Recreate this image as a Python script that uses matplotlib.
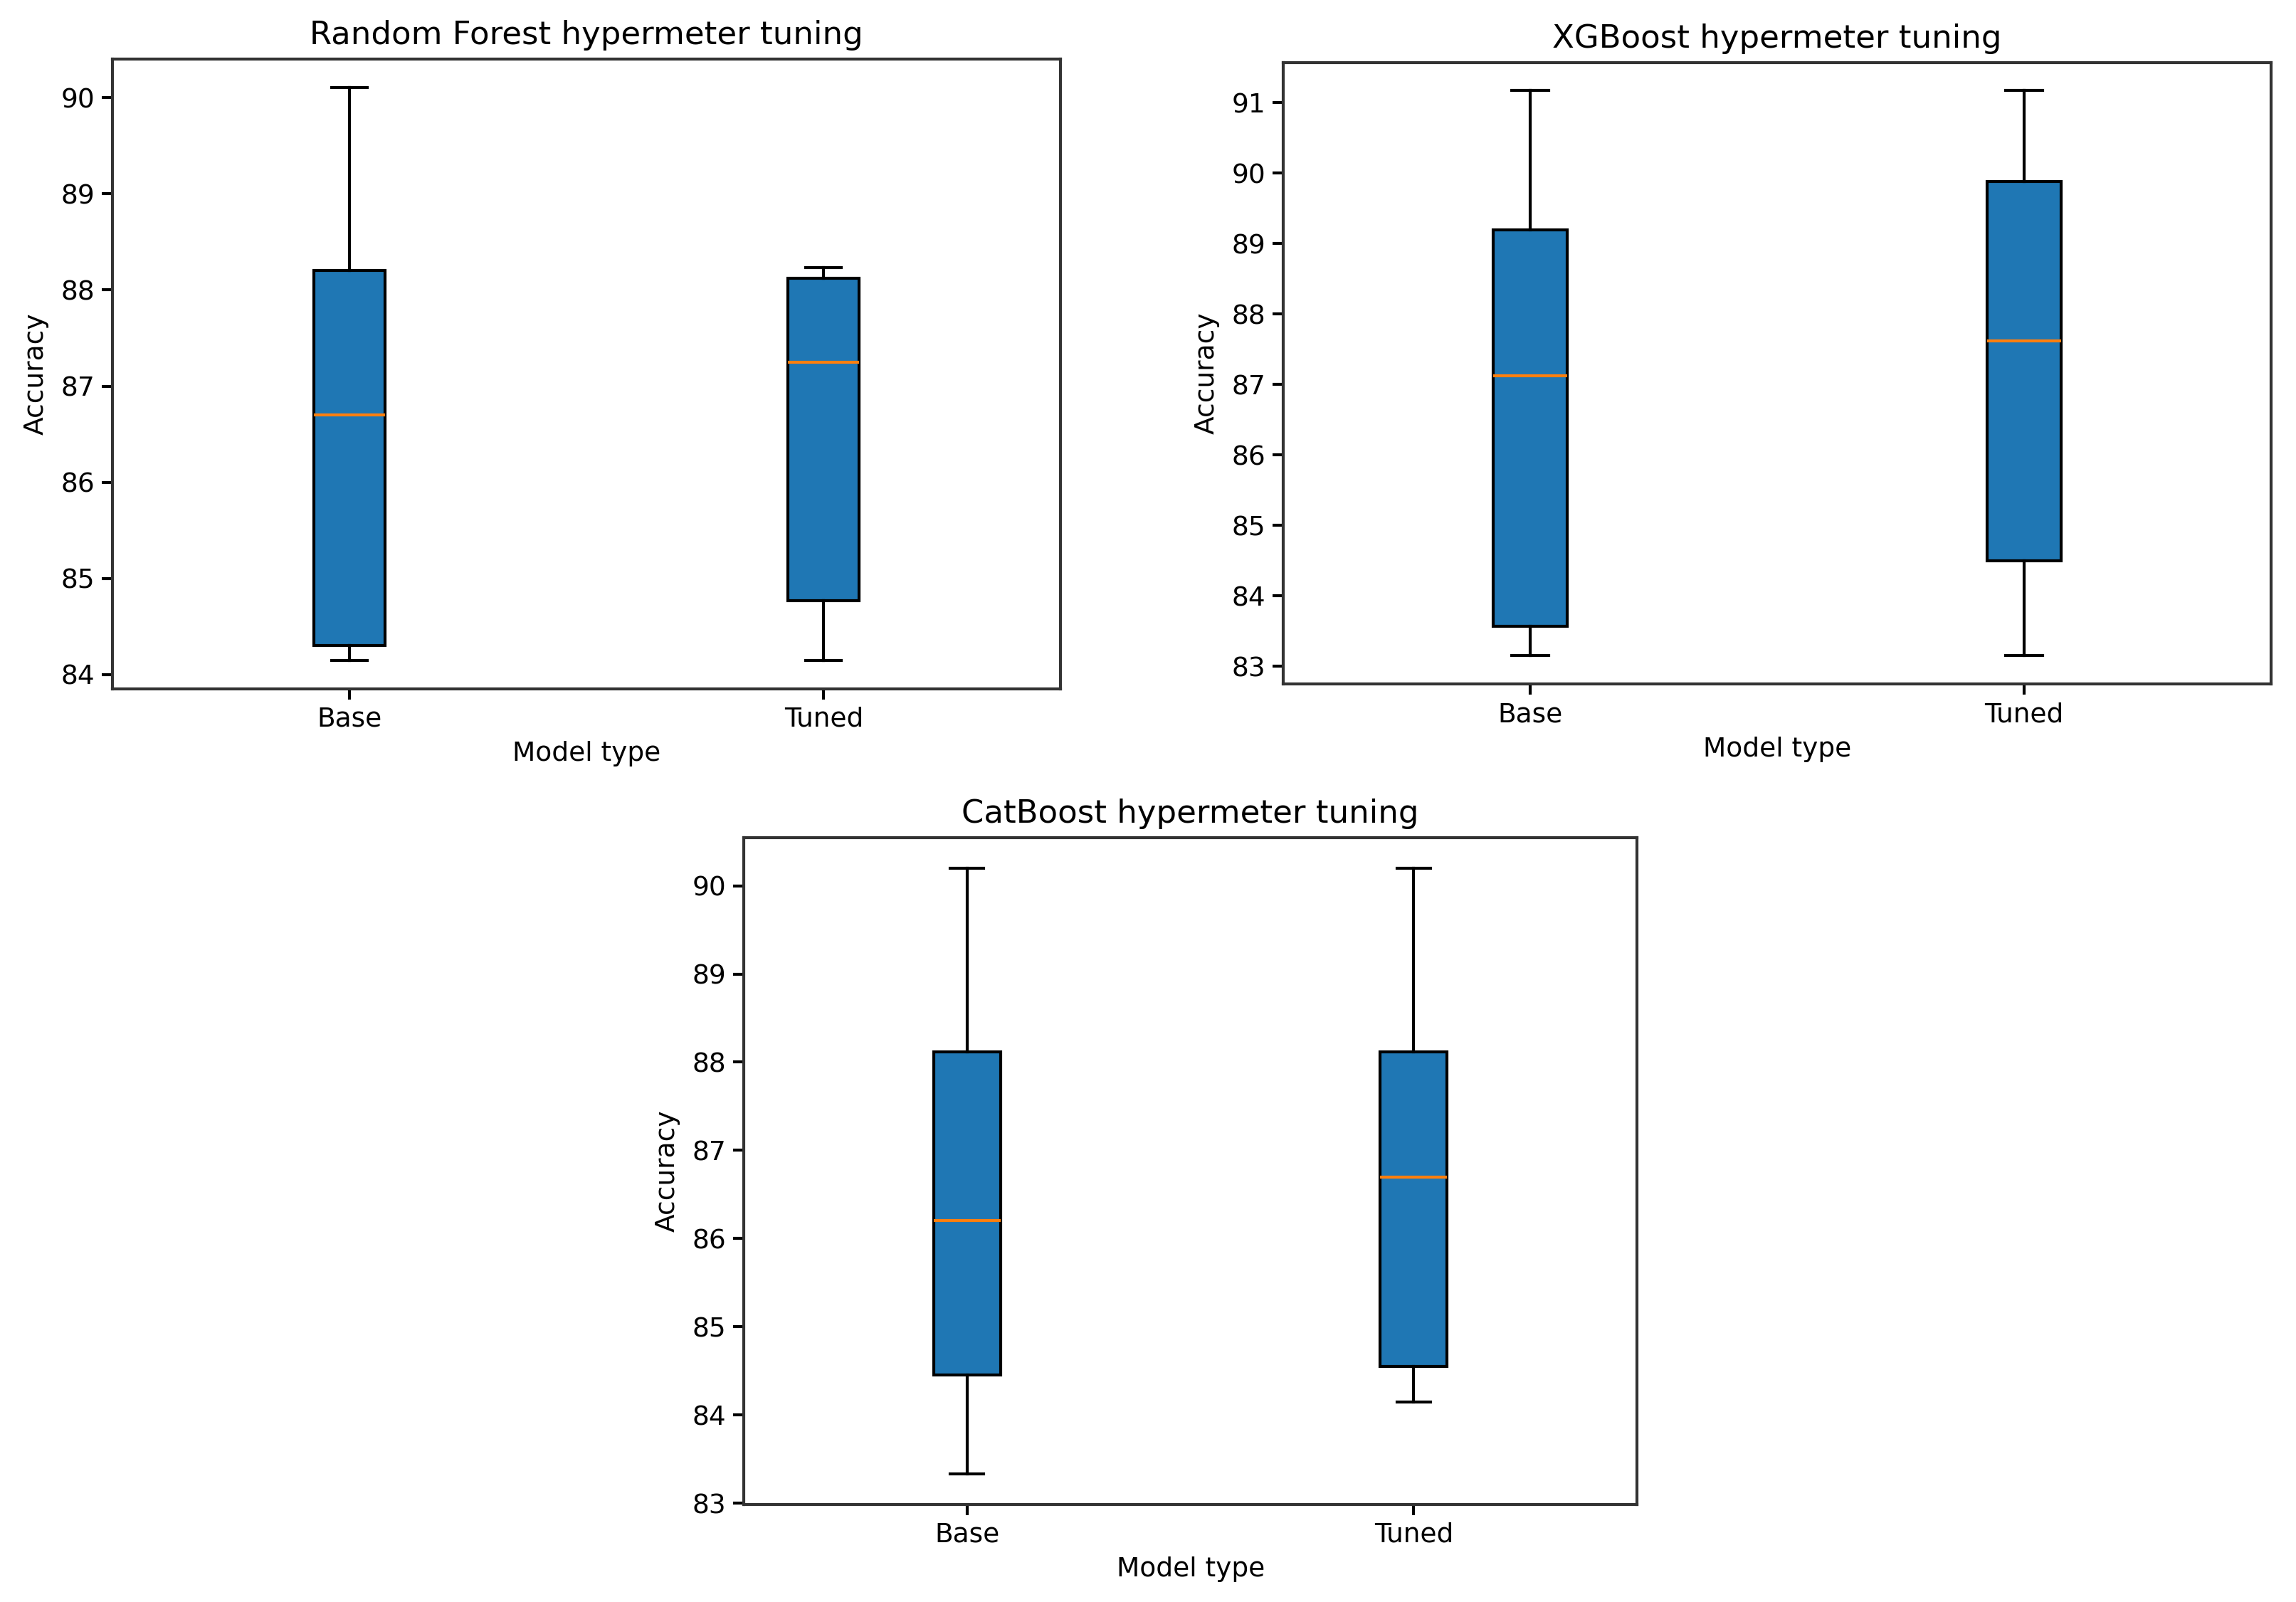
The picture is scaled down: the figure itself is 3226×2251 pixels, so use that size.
import matplotlib
matplotlib.use("Agg")
import matplotlib.pyplot as plt

# Datos: bigote inf, Q1, mediana, Q3, bigote sup
etiquetas = ["Base", "Tuned"]

rf_base = [84.15, 84.30, 86.70, 88.20, 90.10]
rf_tuned = [84.15, 84.77, 87.25, 88.12, 88.23]

xgb_base = [83.15, 83.57, 87.12, 89.20, 91.17]
xgb_tuned = [83.15, 84.50, 87.62, 89.88, 91.17]

cat_base = [83.33, 84.45, 86.20, 88.12, 90.20]
cat_tuned = [84.15, 84.55, 86.70, 88.12, 90.20]

titulos = ["Random Forest hypermeter tuning",
           "XGBoost hypermeter tuning",
           "CatBoost hypermeter tuning"]


def hacer_stats(valores, etiqueta):
    return {"whislo": valores[0], "q1": valores[1], "med": valores[2],
            "q3": valores[3], "whishi": valores[4], "fliers": [],
            "label": etiqueta}


fig = plt.figure(figsize=(3226 / 300, 2251 / 300), dpi=300)
posiciones = [
    [0.049, 0.570, 0.413, 0.393],
    [0.559, 0.573, 0.430, 0.388],
    [0.324, 0.061, 0.389, 0.416],
]
datos = [(rf_base, rf_tuned), (xgb_base, xgb_tuned), (cat_base, cat_tuned)]

for pos, (base, tuned), titulo in zip(posiciones, datos, titulos):
    ax = fig.add_axes(pos)
    stats = [hacer_stats(base, etiquetas[0]), hacer_stats(tuned, etiquetas[1])]
    ax.bxp(stats, patch_artist=True, showfliers=False,
           boxprops=dict(facecolor="#1f77b4", edgecolor="black", linewidth=1.0),
           medianprops=dict(color="#ff7f0e", linewidth=1.0),
           whiskerprops=dict(linewidth=1.0), capprops=dict(linewidth=1.0))
    ax.set_title(titulo, fontsize=10.8, pad=5)
    ax.set_xlabel("Model type", fontsize=9, labelpad=3)
    ax.set_ylabel("Accuracy", fontsize=9)
    ax.tick_params(labelsize=9, width=1.0, length=3.5, pad=2.5)
    for s in ax.spines.values():
        s.set_linewidth(1.0)
        s.set_edgecolor("#333333")

fig.savefig("out.png", dpi=300)
